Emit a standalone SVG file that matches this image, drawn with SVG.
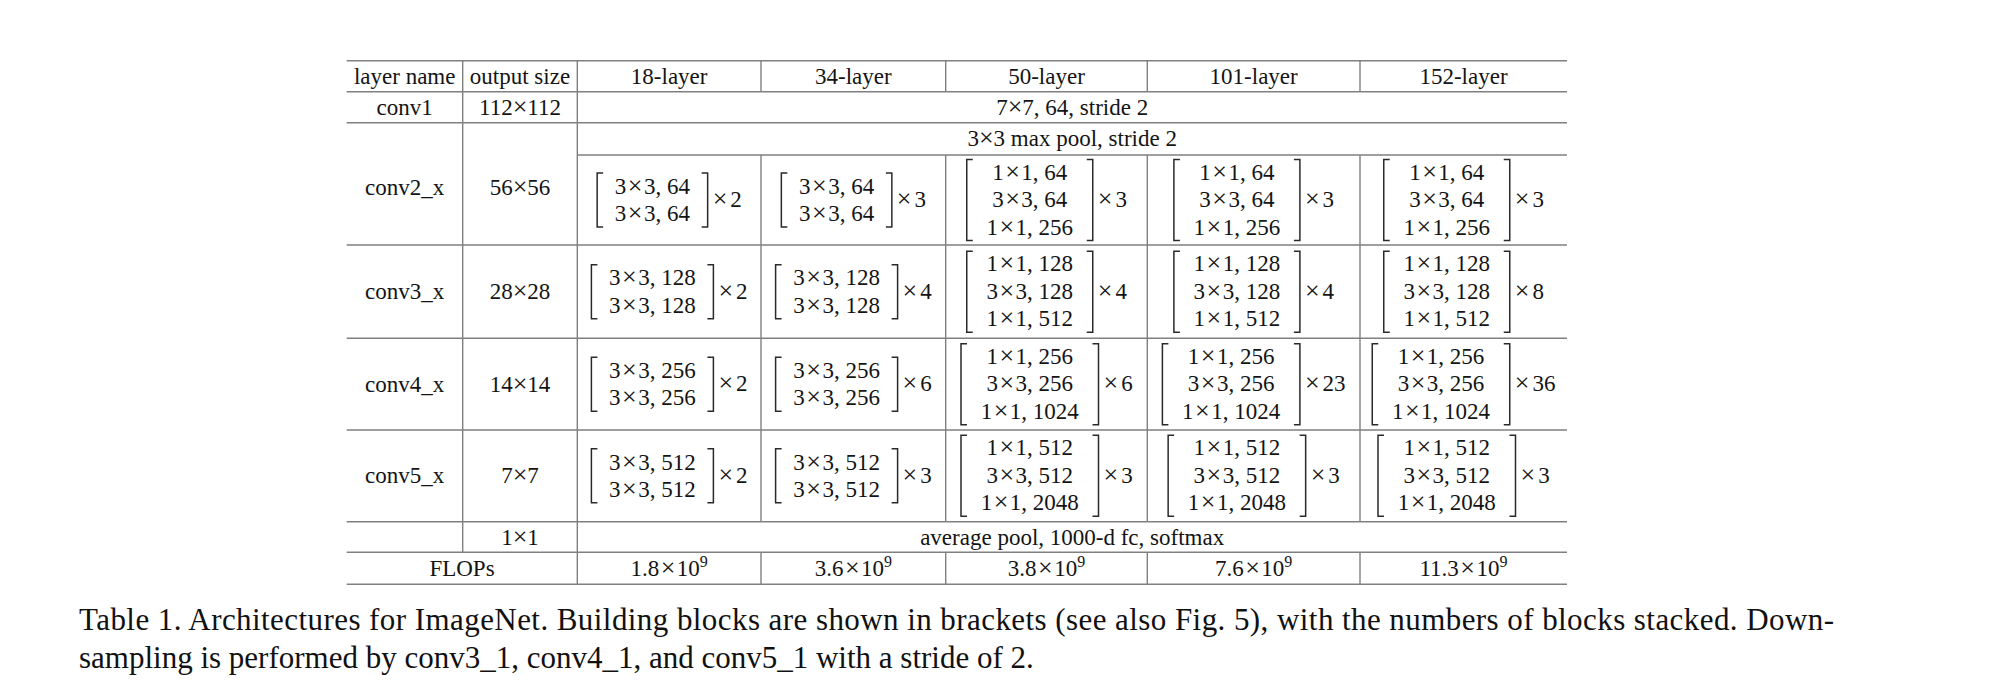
<svg xmlns="http://www.w3.org/2000/svg" width="1996" height="694" viewBox="0 0 1996 694">
<style>
.t{font-family:"Liberation Serif","Times New Roman",serif;font-size:23px;fill:#141414;text-anchor:middle}
.m{font-family:"Liberation Serif","Times New Roman",serif;font-size:23px;fill:#141414;text-anchor:start}
.cap{font-family:"Liberation Serif","Times New Roman",serif;font-size:31px;fill:#111}
.rule{stroke:#808080;stroke-width:1.4;fill:none}
.br{stroke:#2a2a2a;stroke-width:1.5;fill:none}
.sup{font-size:16px}
.x{font-size:26px}
</style>
<rect width="1996" height="694" fill="#fff"/>
<g id="rules">
<path class="rule" d="M346.7,60.7H1567M346.7,91.7H1567M346.7,122.7H1567M577.3,155H1567M346.7,245H1567M346.7,338.3H1567M346.7,430H1567M346.7,521.7H1567M346.7,552.3H1567M346.7,584.3H1567"/>
<path class="rule" d="M462.7,60.7V552.3M577.3,60.7V584.3M761,60.7V91.7M761,155V521.7M761,552.3V584.3M945.7,60.7V91.7M945.7,155V521.7M945.7,552.3V584.3M1147.3,60.7V91.7M1147.3,155V521.7M1147.3,552.3V584.3M1360,60.7V91.7M1360,155V521.7M1360,552.3V584.3"/>
</g>
<g id="header">
<text class="t" x="404.7" y="83.7">layer name</text>
<text class="t" x="520" y="83.7">output size</text>
<text class="t" x="669.15" y="83.7">18-layer</text>
<text class="t" x="853.35" y="83.7">34-layer</text>
<text class="t" x="1046.5" y="83.7">50-layer</text>
<text class="t" x="1253.65" y="83.7">101-layer</text>
<text class="t" x="1463.5" y="83.7">152-layer</text>
</g>
<g id="row-conv1">
<text class="t" x="404.7" y="114.7">conv1</text>
<text class="t" x="520" y="114.7">112<tspan class="x">×</tspan>112</text>
<text class="t" x="1072.15" y="114.7">7<tspan class="x">×</tspan>7, 64, stride 2</text>
</g>
<g id="row-maxpool">
<text class="t" x="1072.15" y="146.3">3<tspan class="x">×</tspan>3 max pool, stride 2</text>
</g>
<g id="row-conv2">
<text class="t" x="404.7" y="195">conv2_x</text>
<text class="t" x="520" y="195">56<tspan class="x">×</tspan>56</text>
<g id="c18-conv2">
<path class="br" d="M603.15,173H597.15V227H603.15M701.65,173H707.65V227H701.65"/>
<text class="t" x="652.4" y="193.7">3<tspan class="x" dx="1.5">×</tspan><tspan dx="1.5">3, 64</tspan></text>
<text class="t" x="652.4" y="221.3">3<tspan class="x" dx="1.5">×</tspan><tspan dx="1.5">3, 64</tspan></text>
<text class="m" x="712.65" y="207"><tspan class="x">×</tspan><tspan dx="3">2</tspan></text>
</g>
<g id="c34-conv2">
<path class="br" d="M787.35,173H781.35V227H787.35M885.85,173H891.85V227H885.85"/>
<text class="t" x="836.6" y="193.7">3<tspan class="x" dx="1.5">×</tspan><tspan dx="1.5">3, 64</tspan></text>
<text class="t" x="836.6" y="221.3">3<tspan class="x" dx="1.5">×</tspan><tspan dx="1.5">3, 64</tspan></text>
<text class="m" x="896.85" y="207"><tspan class="x">×</tspan><tspan dx="3">3</tspan></text>
</g>
<g id="c50-conv2">
<path class="br" d="M972.75,159.5H966.75V240.5H972.75M1086.75,159.5H1092.75V240.5H1086.75"/>
<text class="t" x="1029.75" y="179.5">1<tspan class="x" dx="1.5">×</tspan><tspan dx="1.5">1, 64</tspan></text>
<text class="t" x="1029.75" y="207">3<tspan class="x" dx="1.5">×</tspan><tspan dx="1.5">3, 64</tspan></text>
<text class="t" x="1029.75" y="234.5">1<tspan class="x" dx="1.5">×</tspan><tspan dx="1.5">1, 256</tspan></text>
<text class="m" x="1097.75" y="207"><tspan class="x">×</tspan><tspan dx="3">3</tspan></text>
</g>
<g id="c101-conv2">
<path class="br" d="M1179.9,159.5H1173.9V240.5H1179.9M1293.9,159.5H1299.9V240.5H1293.9"/>
<text class="t" x="1236.9" y="179.5">1<tspan class="x" dx="1.5">×</tspan><tspan dx="1.5">1, 64</tspan></text>
<text class="t" x="1236.9" y="207">3<tspan class="x" dx="1.5">×</tspan><tspan dx="1.5">3, 64</tspan></text>
<text class="t" x="1236.9" y="234.5">1<tspan class="x" dx="1.5">×</tspan><tspan dx="1.5">1, 256</tspan></text>
<text class="m" x="1304.9" y="207"><tspan class="x">×</tspan><tspan dx="3">3</tspan></text>
</g>
<g id="c152-conv2">
<path class="br" d="M1389.75,159.5H1383.75V240.5H1389.75M1503.75,159.5H1509.75V240.5H1503.75"/>
<text class="t" x="1446.75" y="179.5">1<tspan class="x" dx="1.5">×</tspan><tspan dx="1.5">1, 64</tspan></text>
<text class="t" x="1446.75" y="207">3<tspan class="x" dx="1.5">×</tspan><tspan dx="1.5">3, 64</tspan></text>
<text class="t" x="1446.75" y="234.5">1<tspan class="x" dx="1.5">×</tspan><tspan dx="1.5">1, 256</tspan></text>
<text class="m" x="1514.75" y="207"><tspan class="x">×</tspan><tspan dx="3">3</tspan></text>
</g>
</g>
<g id="row-conv3">
<text class="t" x="404.7" y="299.15">conv3_x</text>
<text class="t" x="520" y="299.15">28<tspan class="x">×</tspan>28</text>
<g id="c18-conv3">
<path class="br" d="M597.4,264.65H591.4V318.65H597.4M707.4,264.65H713.4V318.65H707.4"/>
<text class="t" x="652.4" y="285.35">3<tspan class="x" dx="1.5">×</tspan><tspan dx="1.5">3, 128</tspan></text>
<text class="t" x="652.4" y="312.95">3<tspan class="x" dx="1.5">×</tspan><tspan dx="1.5">3, 128</tspan></text>
<text class="m" x="718.4" y="298.65"><tspan class="x">×</tspan><tspan dx="3">2</tspan></text>
</g>
<g id="c34-conv3">
<path class="br" d="M781.6,264.65H775.6V318.65H781.6M891.6,264.65H897.6V318.65H891.6"/>
<text class="t" x="836.6" y="285.35">3<tspan class="x" dx="1.5">×</tspan><tspan dx="1.5">3, 128</tspan></text>
<text class="t" x="836.6" y="312.95">3<tspan class="x" dx="1.5">×</tspan><tspan dx="1.5">3, 128</tspan></text>
<text class="m" x="902.6" y="298.65"><tspan class="x">×</tspan><tspan dx="3">4</tspan></text>
</g>
<g id="c50-conv3">
<path class="br" d="M972.75,251.15H966.75V332.15H972.75M1086.75,251.15H1092.75V332.15H1086.75"/>
<text class="t" x="1029.75" y="271.15">1<tspan class="x" dx="1.5">×</tspan><tspan dx="1.5">1, 128</tspan></text>
<text class="t" x="1029.75" y="298.65">3<tspan class="x" dx="1.5">×</tspan><tspan dx="1.5">3, 128</tspan></text>
<text class="t" x="1029.75" y="326.15">1<tspan class="x" dx="1.5">×</tspan><tspan dx="1.5">1, 512</tspan></text>
<text class="m" x="1097.75" y="298.65"><tspan class="x">×</tspan><tspan dx="3">4</tspan></text>
</g>
<g id="c101-conv3">
<path class="br" d="M1179.9,251.15H1173.9V332.15H1179.9M1293.9,251.15H1299.9V332.15H1293.9"/>
<text class="t" x="1236.9" y="271.15">1<tspan class="x" dx="1.5">×</tspan><tspan dx="1.5">1, 128</tspan></text>
<text class="t" x="1236.9" y="298.65">3<tspan class="x" dx="1.5">×</tspan><tspan dx="1.5">3, 128</tspan></text>
<text class="t" x="1236.9" y="326.15">1<tspan class="x" dx="1.5">×</tspan><tspan dx="1.5">1, 512</tspan></text>
<text class="m" x="1304.9" y="298.65"><tspan class="x">×</tspan><tspan dx="3">4</tspan></text>
</g>
<g id="c152-conv3">
<path class="br" d="M1389.75,251.15H1383.75V332.15H1389.75M1503.75,251.15H1509.75V332.15H1503.75"/>
<text class="t" x="1446.75" y="271.15">1<tspan class="x" dx="1.5">×</tspan><tspan dx="1.5">1, 128</tspan></text>
<text class="t" x="1446.75" y="298.65">3<tspan class="x" dx="1.5">×</tspan><tspan dx="1.5">3, 128</tspan></text>
<text class="t" x="1446.75" y="326.15">1<tspan class="x" dx="1.5">×</tspan><tspan dx="1.5">1, 512</tspan></text>
<text class="m" x="1514.75" y="298.65"><tspan class="x">×</tspan><tspan dx="3">8</tspan></text>
</g>
</g>
<g id="row-conv4">
<text class="t" x="404.7" y="391.65">conv4_x</text>
<text class="t" x="520" y="391.65">14<tspan class="x">×</tspan>14</text>
<g id="c18-conv4">
<path class="br" d="M597.4,357.15H591.4V411.15H597.4M707.4,357.15H713.4V411.15H707.4"/>
<text class="t" x="652.4" y="377.85">3<tspan class="x" dx="1.5">×</tspan><tspan dx="1.5">3, 256</tspan></text>
<text class="t" x="652.4" y="405.45">3<tspan class="x" dx="1.5">×</tspan><tspan dx="1.5">3, 256</tspan></text>
<text class="m" x="718.4" y="391.15"><tspan class="x">×</tspan><tspan dx="3">2</tspan></text>
</g>
<g id="c34-conv4">
<path class="br" d="M781.6,357.15H775.6V411.15H781.6M891.6,357.15H897.6V411.15H891.6"/>
<text class="t" x="836.6" y="377.85">3<tspan class="x" dx="1.5">×</tspan><tspan dx="1.5">3, 256</tspan></text>
<text class="t" x="836.6" y="405.45">3<tspan class="x" dx="1.5">×</tspan><tspan dx="1.5">3, 256</tspan></text>
<text class="m" x="902.6" y="391.15"><tspan class="x">×</tspan><tspan dx="3">6</tspan></text>
</g>
<g id="c50-conv4">
<path class="br" d="M967,343.65H961V424.65H967M1092.5,343.65H1098.5V424.65H1092.5"/>
<text class="t" x="1029.75" y="363.65">1<tspan class="x" dx="1.5">×</tspan><tspan dx="1.5">1, 256</tspan></text>
<text class="t" x="1029.75" y="391.15">3<tspan class="x" dx="1.5">×</tspan><tspan dx="1.5">3, 256</tspan></text>
<text class="t" x="1029.75" y="418.65">1<tspan class="x" dx="1.5">×</tspan><tspan dx="1.5">1, 1024</tspan></text>
<text class="m" x="1103.5" y="391.15"><tspan class="x">×</tspan><tspan dx="3">6</tspan></text>
</g>
<g id="c101-conv4">
<path class="br" d="M1168.4,343.65H1162.4V424.65H1168.4M1293.9,343.65H1299.9V424.65H1293.9"/>
<text class="t" x="1231.15" y="363.65">1<tspan class="x" dx="1.5">×</tspan><tspan dx="1.5">1, 256</tspan></text>
<text class="t" x="1231.15" y="391.15">3<tspan class="x" dx="1.5">×</tspan><tspan dx="1.5">3, 256</tspan></text>
<text class="t" x="1231.15" y="418.65">1<tspan class="x" dx="1.5">×</tspan><tspan dx="1.5">1, 1024</tspan></text>
<text class="m" x="1304.9" y="391.15"><tspan class="x">×</tspan><tspan dx="3">23</tspan></text>
</g>
<g id="c152-conv4">
<path class="br" d="M1378.25,343.65H1372.25V424.65H1378.25M1503.75,343.65H1509.75V424.65H1503.75"/>
<text class="t" x="1441" y="363.65">1<tspan class="x" dx="1.5">×</tspan><tspan dx="1.5">1, 256</tspan></text>
<text class="t" x="1441" y="391.15">3<tspan class="x" dx="1.5">×</tspan><tspan dx="1.5">3, 256</tspan></text>
<text class="t" x="1441" y="418.65">1<tspan class="x" dx="1.5">×</tspan><tspan dx="1.5">1, 1024</tspan></text>
<text class="m" x="1514.75" y="391.15"><tspan class="x">×</tspan><tspan dx="3">36</tspan></text>
</g>
</g>
<g id="row-conv5">
<text class="t" x="404.7" y="483.35">conv5_x</text>
<text class="t" x="520" y="483.35">7<tspan class="x">×</tspan>7</text>
<g id="c18-conv5">
<path class="br" d="M597.4,448.85H591.4V502.85H597.4M707.4,448.85H713.4V502.85H707.4"/>
<text class="t" x="652.4" y="469.55">3<tspan class="x" dx="1.5">×</tspan><tspan dx="1.5">3, 512</tspan></text>
<text class="t" x="652.4" y="497.15">3<tspan class="x" dx="1.5">×</tspan><tspan dx="1.5">3, 512</tspan></text>
<text class="m" x="718.4" y="482.85"><tspan class="x">×</tspan><tspan dx="3">2</tspan></text>
</g>
<g id="c34-conv5">
<path class="br" d="M781.6,448.85H775.6V502.85H781.6M891.6,448.85H897.6V502.85H891.6"/>
<text class="t" x="836.6" y="469.55">3<tspan class="x" dx="1.5">×</tspan><tspan dx="1.5">3, 512</tspan></text>
<text class="t" x="836.6" y="497.15">3<tspan class="x" dx="1.5">×</tspan><tspan dx="1.5">3, 512</tspan></text>
<text class="m" x="902.6" y="482.85"><tspan class="x">×</tspan><tspan dx="3">3</tspan></text>
</g>
<g id="c50-conv5">
<path class="br" d="M967,435.35H961V516.35H967M1092.5,435.35H1098.5V516.35H1092.5"/>
<text class="t" x="1029.75" y="455.35">1<tspan class="x" dx="1.5">×</tspan><tspan dx="1.5">1, 512</tspan></text>
<text class="t" x="1029.75" y="482.85">3<tspan class="x" dx="1.5">×</tspan><tspan dx="1.5">3, 512</tspan></text>
<text class="t" x="1029.75" y="510.35">1<tspan class="x" dx="1.5">×</tspan><tspan dx="1.5">1, 2048</tspan></text>
<text class="m" x="1103.5" y="482.85"><tspan class="x">×</tspan><tspan dx="3">3</tspan></text>
</g>
<g id="c101-conv5">
<path class="br" d="M1174.15,435.35H1168.15V516.35H1174.15M1299.65,435.35H1305.65V516.35H1299.65"/>
<text class="t" x="1236.9" y="455.35">1<tspan class="x" dx="1.5">×</tspan><tspan dx="1.5">1, 512</tspan></text>
<text class="t" x="1236.9" y="482.85">3<tspan class="x" dx="1.5">×</tspan><tspan dx="1.5">3, 512</tspan></text>
<text class="t" x="1236.9" y="510.35">1<tspan class="x" dx="1.5">×</tspan><tspan dx="1.5">1, 2048</tspan></text>
<text class="m" x="1310.65" y="482.85"><tspan class="x">×</tspan><tspan dx="3">3</tspan></text>
</g>
<g id="c152-conv5">
<path class="br" d="M1384,435.35H1378V516.35H1384M1509.5,435.35H1515.5V516.35H1509.5"/>
<text class="t" x="1446.75" y="455.35">1<tspan class="x" dx="1.5">×</tspan><tspan dx="1.5">1, 512</tspan></text>
<text class="t" x="1446.75" y="482.85">3<tspan class="x" dx="1.5">×</tspan><tspan dx="1.5">3, 512</tspan></text>
<text class="t" x="1446.75" y="510.35">1<tspan class="x" dx="1.5">×</tspan><tspan dx="1.5">1, 2048</tspan></text>
<text class="m" x="1520.5" y="482.85"><tspan class="x">×</tspan><tspan dx="3">3</tspan></text>
</g>
</g>
<g id="row-pool">
<text class="t" x="520" y="544.5">1<tspan class="x">×</tspan>1</text>
<text class="t" x="1072.15" y="544.5">average pool, 1000-d fc, softmax</text>
</g>
<g id="row-flops">
<text class="t" x="462" y="575.5">FLOPs</text>
<text class="t" x="669.15" y="575.5">1.8<tspan class="x" dx="1.5">×</tspan><tspan dx="1.5">10</tspan><tspan class="sup" dy="-9">9</tspan></text>
<text class="t" x="853.35" y="575.5">3.6<tspan class="x" dx="1.5">×</tspan><tspan dx="1.5">10</tspan><tspan class="sup" dy="-9">9</tspan></text>
<text class="t" x="1046.5" y="575.5">3.8<tspan class="x" dx="1.5">×</tspan><tspan dx="1.5">10</tspan><tspan class="sup" dy="-9">9</tspan></text>
<text class="t" x="1253.65" y="575.5">7.6<tspan class="x" dx="1.5">×</tspan><tspan dx="1.5">10</tspan><tspan class="sup" dy="-9">9</tspan></text>
<text class="t" x="1463.5" y="575.5">11.3<tspan class="x" dx="1.5">×</tspan><tspan dx="1.5">10</tspan><tspan class="sup" dy="-9">9</tspan></text>
</g>
<g id="caption">
<text class="cap" x="79" y="630" textLength="1755" lengthAdjust="spacing">Table 1. Architectures for ImageNet. Building blocks are shown in brackets (see also Fig. 5), with the numbers of blocks stacked. Down-</text>
<text class="cap" x="79" y="668">sampling is performed by conv3_1, conv4_1, and conv5_1 with a stride of 2.</text>
</g>
</svg>
